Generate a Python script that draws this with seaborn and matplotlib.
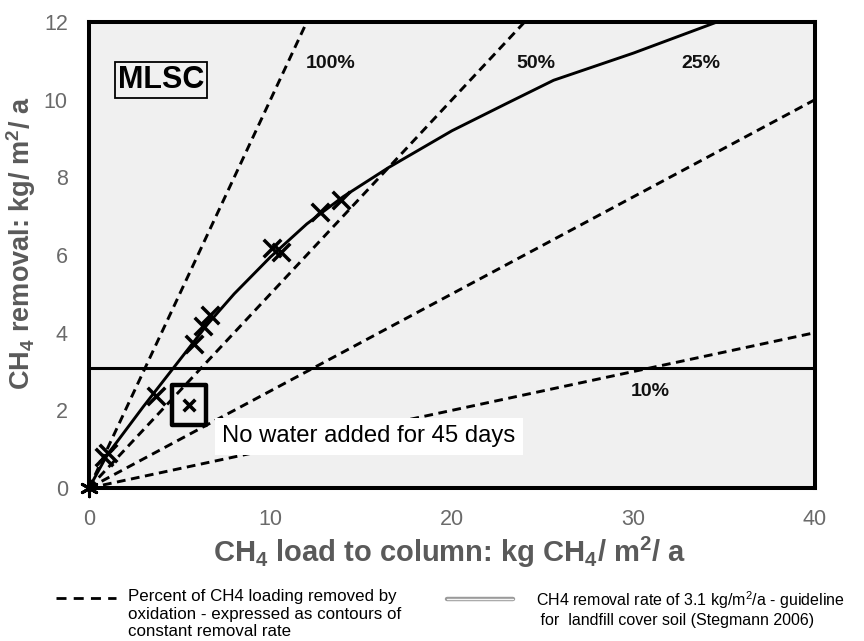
import matplotlib
matplotlib.use("Agg")
import matplotlib.pyplot as plt
from matplotlib import font_manager
from matplotlib.lines import Line2D
from matplotlib.path import Path
import pandas as pd
import seaborn as sns

# ---- data -------------------------------------------------------------
# measured CH4 removal against CH4 load (kg/m2/a)
load_measured = [0.85, 1.05, 3.7, 5.8, 6.3, 6.65, 10.1, 10.6, 12.7, 13.9]
removal_measured = [0.80, 0.90, 2.37, 3.71, 4.16, 4.46, 6.18, 6.09, 7.12, 7.41]

# start-up readings at zero load
load_origin = [0.0]
removal_origin = [0.0]

# reading after the dry period
load_dry = [5.5]
removal_dry = [2.13]

# trend line through the measurements
trend_load = [0, 1.0, 3.0, 5.0, 6.5, 8.0, 10.0, 12.0, 14.0, 16.5, 20.0, 23.0, 25.6, 30.0, 34.6]
trend_removal = [0, 0.85, 2.10, 3.30, 4.20, 5.00, 5.95, 6.80, 7.50, 8.25, 9.20, 9.90, 10.50, 11.20, 12.0]

# contours of constant removal efficiency (percent of load)
removal_pct = [100, 50, 25, 10]
pct_labels = ["100%", "50%", "25%", "10%"]

# guideline removal rate (Stegmann 2006)
guideline_rate = 3.1

x_ticks = [0, 10, 20, 30, 40]
y_ticks = [0, 2, 4, 6, 8, 10, 12]

# ---- fonts ------------------------------------------------------------
installed = {f.name for f in font_manager.fontManager.ttflist}


def pick(*names):
    for n in names:
        if n in installed:
            return n
    return "DejaVu Sans"


SANS = pick("Liberation Sans", "Arimo", "DejaVu Sans")
NARROW = pick("Liberation Sans Narrow", "Arial Narrow", "Liberation Sans")

sns.set_theme(style="white")
plt.rcParams["font.family"] = [SANS, "DejaVu Sans"]
plt.rcParams["mathtext.fontset"] = "custom"
plt.rcParams["mathtext.rm"] = SANS
plt.rcParams["mathtext.bf"] = SANS + ":bold"
plt.rcParams["mathtext.it"] = SANS + ":italic"

W, H = 864, 641
fig = plt.figure(figsize=(W / 100, H / 100), dpi=100)
fig.patch.set_facecolor("white")

# axes box in pixels: x 89..815, y 22..488
L, R, T, B = 89, 815, 22, 488
ax = fig.add_axes([L / W, 1 - B / H, (R - L) / W, (B - T) / H])
ax.set_facecolor("#f0f0f0")

# contour lines of constant removal efficiency
dash = (0, (3.0, 1.9))
for pct in removal_pct:
    frac = pct / 100.0
    xend = min(40.0, 12.0 / frac)
    seg = pd.DataFrame({"load": [0.0, xend], "removal": [0.0, frac * xend]})
    sns.lineplot(data=seg, x="load", y="removal", ax=ax, color="black",
                 linewidth=2.1, linestyle=dash, zorder=2)

# guideline
ax.axhline(guideline_rate, color="black", linewidth=2.2, zorder=3)

# trend line
trend = pd.DataFrame({"load": trend_load, "removal": trend_removal})
sns.lineplot(data=trend, x="load", y="removal", ax=ax, color="black",
             linewidth=2.1, sort=False, zorder=4)

# measured points
meas = pd.DataFrame({"load": load_measured, "removal": removal_measured})
sns.scatterplot(data=meas, x="load", y="removal", ax=ax, marker="x",
                color="black", s=160, linewidth=2.5, zorder=5)

orig = pd.DataFrame({"load": load_origin, "removal": removal_origin})
sns.scatterplot(data=orig, x="load", y="removal", ax=ax, marker=(6, 2, 0),
                color="black", s=140, linewidth=2.2, zorder=6, clip_on=False)

dry = pd.DataFrame({"load": load_dry, "removal": removal_dry})
sns.scatterplot(data=dry, x="load", y="removal", ax=ax, marker="x",
                color="black", s=70, linewidth=2.6, zorder=6)
box = Path([(-0.83, -1), (0.83, -1), (0.83, 1), (-0.83, 1), (-0.83, -1)],
           [Path.MOVETO, Path.LINETO, Path.LINETO, Path.LINETO, Path.CLOSEPOLY])
ax.plot(load_dry, removal_dry, linestyle="none", marker=box, markersize=29,
        markerfacecolor="none", markeredgecolor="black", markeredgewidth=3.2,
        zorder=6)

# percentage labels
label_pos = [(13.3, 10.92), (24.6, 10.92), (33.7, 10.92), (30.9, 2.48)]
for txt, (lx, ly) in zip(pct_labels, label_pos):
    ax.text(lx, ly, txt, ha="center", va="center", fontsize=14,
            fontweight="bold", color="#111111", zorder=7)

ax.text(3.96, 10.5, "MLSC", ha="center", va="center", fontsize=22,
        fontweight="bold", color="black", zorder=7,
        bbox=dict(boxstyle="square,pad=0.1", fc="#f0f0f0", ec="black", lw=1.3))

ax.text(7.35, 1.33, "No water added for 45 days", ha="left", va="center",
        fontsize=17.2, color="black", zorder=7,
        bbox=dict(boxstyle="square,pad=0.3", fc="white", ec="none"))

# axes styling
ax.set_xlim(0, 40)
ax.set_ylim(0, 12)
ax.set_xticks(x_ticks)
ax.set_yticks(y_ticks)
ax.set_xticklabels([str(v) for v in x_ticks])
ax.set_yticklabels([str(v) for v in y_ticks])
for s in ax.spines.values():
    s.set_visible(True)
    s.set_color("black")
    s.set_linewidth(2.9)
ax.tick_params(axis="both", which="major", direction="inout", length=11.5,
               width=2.2, color="black", labelsize=15.5, labelcolor="#6a6a6a")
ax.tick_params(axis="x", pad=9.5)
ax.tick_params(axis="y", pad=9.5)

ax.set_xlabel(r"CH$_\mathbf{4}$ load to column: kg CH$_\mathbf{4}$/ m$^\mathbf{2}$/ a",
              fontsize=21, fontweight="bold", color="#5a5a5a")
ax.set_ylabel(r"CH$_\mathbf{4}$ removal: kg/ m$^\mathbf{2}$/ a",
              fontsize=19.5, fontweight="bold", color="#5a5a5a")
ax.xaxis.set_label_coords(0.496, -0.101)
ax.yaxis.set_label_coords(-0.070, 0.525)


# ---- legend below the axes --------------------------------------------
def fx(px):
    return px / W


def fy(py):
    return 1 - py / H


fig.add_artist(Line2D([fx(56), fx(116)], [fy(598), fy(598)], color="black",
                      linewidth=2.0, linestyle=(0, (3.6, 2.6)),
                      transform=fig.transFigure))
fig.text(fx(128), fy(589), "Percent of CH4 loading removed by\n"
         "oxidation - expressed as contours of\nconstant removal rate",
         ha="left", va="top", fontsize=12.2, family=[NARROW, "DejaVu Sans"],
         color="black", linespacing=1.22)

fig.add_artist(Line2D([fx(447), fx(513)], [fy(599), fy(599)], color="#9a9a9a",
                      linewidth=3.2, transform=fig.transFigure))
fig.add_artist(Line2D([fx(447), fx(513)], [fy(599), fy(599)], color="#f4f4f4",
                      linewidth=1.0, transform=fig.transFigure))
fig.text(fx(536), fy(589), "CH4 removal rate of 3.1 kg/m$^2$/a - guideline\n"
         " for  landfill cover soil (Stegmann 2006)",
         ha="left", va="top", fontsize=11.5, family=[NARROW, "DejaVu Sans"],
         color="black", linespacing=1.15)

fig.savefig("out.png", dpi=100)
